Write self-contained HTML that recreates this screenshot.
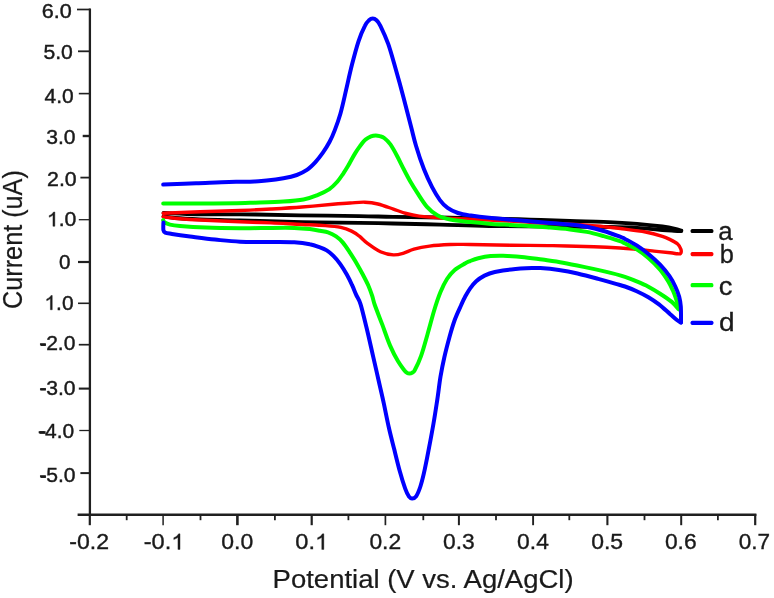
<!DOCTYPE html>
<html><head><meta charset="utf-8"><title>CV chart</title>
<style>
html,body{margin:0;padding:0;background:#fff;}
body{width:774px;height:598px;overflow:hidden;font-family:"Liberation Sans",sans-serif;}
svg{display:block;filter:blur(0.7px);}
text{font-family:"Liberation Sans",sans-serif;fill:#1a1a1a;stroke:#1a1a1a;}
</style></head><body>
<svg width="774" height="598" viewBox="0 0 774 598">
<rect width="774" height="598" fill="#fff"/>
<g id="axes">
<line x1="89.9" y1="8.6" x2="89.9" y2="516" stroke="#202020" stroke-width="2.3"/>
<line x1="77.6" y1="514.8" x2="756.4" y2="514.8" stroke="#202020" stroke-width="2.4"/>
<line x1="89.8" y1="514" x2="89.8" y2="525.2" stroke="#202020" stroke-width="2.2"/>
<line x1="163.1" y1="514" x2="163.1" y2="525.2" stroke="#202020" stroke-width="1.5"/>
<line x1="237.4" y1="514" x2="237.4" y2="525.2" stroke="#202020" stroke-width="2.6"/>
<line x1="311.7" y1="514" x2="311.7" y2="525.2" stroke="#202020" stroke-width="2.2"/>
<line x1="385.4" y1="514" x2="385.4" y2="525.2" stroke="#202020" stroke-width="1.7"/>
<line x1="458.9" y1="514" x2="458.9" y2="525.2" stroke="#202020" stroke-width="2.0"/>
<line x1="533.1" y1="514" x2="533.1" y2="525.2" stroke="#202020" stroke-width="1.9"/>
<line x1="607.4" y1="514" x2="607.4" y2="525.2" stroke="#202020" stroke-width="2.1"/>
<line x1="681.2" y1="514" x2="681.2" y2="525.2" stroke="#202020" stroke-width="2.0"/>
<line x1="755.2" y1="514" x2="755.2" y2="525.2" stroke="#202020" stroke-width="2.2"/>
<line x1="126.7" y1="514" x2="126.7" y2="520.2" stroke="#202020" stroke-width="1.8"/>
<line x1="200.5" y1="514" x2="200.5" y2="520.2" stroke="#202020" stroke-width="1.8"/>
<line x1="274.9" y1="514" x2="274.9" y2="520.2" stroke="#202020" stroke-width="1.8"/>
<line x1="348.4" y1="514" x2="348.4" y2="520.2" stroke="#202020" stroke-width="1.8"/>
<line x1="423.3" y1="514" x2="423.3" y2="520.2" stroke="#202020" stroke-width="1.8"/>
<line x1="496.0" y1="514" x2="496.0" y2="520.2" stroke="#202020" stroke-width="1.8"/>
<line x1="569.3" y1="514" x2="569.3" y2="520.2" stroke="#202020" stroke-width="1.8"/>
<line x1="644.5" y1="514" x2="644.5" y2="520.2" stroke="#202020" stroke-width="1.8"/>
<line x1="717.9" y1="514" x2="717.9" y2="520.2" stroke="#202020" stroke-width="1.8"/>
<line x1="77.0" y1="9.5" x2="90.2" y2="9.5" stroke="#202020" stroke-width="1.7"/>
<line x1="78.0" y1="51.3" x2="90.2" y2="51.3" stroke="#202020" stroke-width="1.8"/>
<line x1="78.8" y1="93.6" x2="90.2" y2="93.6" stroke="#202020" stroke-width="1.6"/>
<line x1="82.7" y1="136.0" x2="90.2" y2="136.0" stroke="#202020" stroke-width="2.4"/>
<line x1="80.4" y1="177.6" x2="90.2" y2="177.6" stroke="#202020" stroke-width="1.8"/>
<line x1="78.8" y1="219.7" x2="90.2" y2="219.7" stroke="#202020" stroke-width="1.3"/>
<line x1="78.0" y1="262.0" x2="90.2" y2="262.0" stroke="#202020" stroke-width="2.2"/>
<line x1="78.0" y1="303.3" x2="90.2" y2="303.3" stroke="#202020" stroke-width="1.6"/>
<line x1="78.8" y1="344.7" x2="90.2" y2="344.7" stroke="#202020" stroke-width="1.7"/>
<line x1="78.8" y1="388.6" x2="90.2" y2="388.6" stroke="#202020" stroke-width="2.1"/>
<line x1="79.3" y1="430.5" x2="90.2" y2="430.5" stroke="#202020" stroke-width="1.3"/>
<line x1="80.4" y1="473.1" x2="90.2" y2="473.1" stroke="#202020" stroke-width="2.0"/>
</g>
<g id="curves">
<path d="M163.5 213.0 C169.1 213.2 186.1 214.1 197.0 214.3 C207.9 214.5 219.2 214.4 229.0 214.4 C238.8 214.4 243.7 214.3 255.5 214.5 C267.3 214.7 282.7 215.0 300.0 215.3 C317.3 215.6 343.9 215.8 359.4 216.1 C374.9 216.3 379.6 216.6 393.0 216.8 C406.4 217.0 424.0 217.2 440.0 217.5 C456.0 217.8 474.0 218.0 489.0 218.3 C504.0 218.7 516.5 219.2 530.0 219.6 C543.5 220.0 557.7 220.6 570.0 221.0 C582.3 221.4 592.4 221.3 603.6 221.8 C614.8 222.3 627.4 223.0 637.2 223.8 C647.0 224.6 656.2 225.7 662.4 226.5 C668.5 227.3 671.0 227.8 674.1 228.5 C677.2 229.2 680.1 230.2 681.3 230.6" fill="none" stroke="#000" stroke-width="3.8" stroke-linecap="round" stroke-linejoin="round"/>
<path d="M681.3 231.0 C680.1 231.0 677.1 231.0 674.0 230.8 C670.9 230.6 668.5 230.5 662.4 230.0 C656.3 229.5 645.9 228.4 637.2 227.9 C628.5 227.4 622.5 227.2 610.0 227.0 C597.5 226.8 582.2 226.8 562.0 226.6 C541.8 226.4 509.3 226.3 489.0 226.0 C468.7 225.7 456.0 225.0 440.0 224.6 C424.0 224.2 406.4 223.8 393.0 223.5 C379.6 223.2 374.6 223.1 359.4 222.9 C344.2 222.7 321.9 222.5 302.0 222.1 C282.1 221.7 257.0 220.8 240.0 220.3 C223.0 219.8 210.8 219.7 200.0 219.3 C189.2 218.9 181.1 218.5 175.0 218.0 C168.9 217.5 165.4 216.6 163.5 216.3" fill="none" stroke="#000" stroke-width="3.8" stroke-linecap="round" stroke-linejoin="round"/>
<path d="M163.2 213.3 C169.3 213.1 187.2 212.3 200.0 211.8 C212.8 211.3 228.2 211.0 240.0 210.5 C251.8 210.0 260.7 209.6 271.0 209.0 C281.3 208.4 291.7 207.8 302.0 207.0 C312.3 206.2 325.0 205.0 333.0 204.3 C341.0 203.6 344.7 203.3 350.0 203.0 C355.3 202.7 360.2 202.0 364.9 202.2 C369.5 202.4 373.1 202.8 377.9 204.0 C382.6 205.2 388.7 207.5 393.4 209.1 C398.1 210.7 402.0 212.3 406.3 213.5 C410.6 214.7 412.8 215.3 419.2 216.1 C425.6 216.9 433.4 217.5 445.0 218.2 C456.6 218.8 474.8 219.3 489.0 220.0 C503.2 220.7 516.5 221.6 530.0 222.3 C543.5 223.0 560.5 223.7 570.0 224.2 C579.5 224.7 581.2 224.8 586.8 225.2 C592.4 225.6 598.0 226.0 603.6 226.6 C609.2 227.2 613.4 227.6 620.4 228.5 C627.4 229.4 638.6 230.7 645.6 232.0 C652.6 233.3 658.3 235.1 662.4 236.4 C666.5 237.7 667.7 238.4 670.2 239.6 C672.7 240.8 675.6 242.2 677.4 243.8 C679.2 245.4 680.4 247.7 680.9 249.3 C681.4 250.9 681.2 252.7 680.6 253.4 C680.0 254.2 679.2 253.9 677.5 253.8 C675.8 253.7 674.1 253.2 670.2 252.8 C666.3 252.4 659.6 251.7 654.0 251.1 C648.4 250.5 642.4 249.8 636.7 249.3 C631.0 248.8 627.1 248.4 620.0 248.0 C612.9 247.6 605.2 247.2 594.0 246.8 C582.8 246.4 566.5 245.9 552.7 245.6 C538.9 245.3 525.1 245.4 511.3 245.2 C497.5 245.0 480.2 244.6 470.0 244.5 C459.8 244.4 456.9 244.2 450.2 244.5 C443.4 244.8 435.5 245.3 429.5 246.1 C423.5 246.9 418.3 248.0 414.0 249.2 C409.7 250.4 407.1 252.1 403.7 253.1 C400.3 254.1 397.3 255.1 393.4 254.9 C389.5 254.7 384.7 253.7 380.4 251.8 C376.1 249.9 371.0 246.0 367.5 243.4 C364.0 240.8 362.0 238.2 359.4 236.2 C356.8 234.1 354.7 232.6 351.6 231.1 C348.5 229.6 345.2 228.3 340.8 227.4 C336.4 226.5 331.8 226.1 325.3 225.6 C318.8 225.1 311.1 224.9 302.0 224.5 C292.9 224.1 281.3 223.3 271.0 222.9 C260.7 222.5 251.8 222.3 240.0 221.8 C228.2 221.3 210.0 220.5 200.0 220.0 C190.0 219.5 186.1 219.2 180.0 218.7 C173.9 218.2 166.0 217.1 163.2 216.8" fill="none" stroke="#f00" stroke-width="3.4" stroke-linecap="round" stroke-linejoin="round"/>
<path d="M163.2 203.6 C169.3 203.6 187.7 203.6 200.0 203.5 C212.3 203.4 228.7 203.3 237.0 203.2 C245.3 203.1 242.3 203.1 250.0 202.8 C257.7 202.5 274.5 202.2 283.4 201.6 C292.3 201.0 297.9 200.6 303.5 199.5 C309.1 198.4 312.6 197.0 316.9 195.3 C321.2 193.6 326.0 191.4 329.4 189.1 C332.8 186.8 335.2 184.1 337.5 181.5 C339.8 178.9 341.4 176.2 343.4 173.3 C345.3 170.4 347.2 167.2 349.2 163.9 C351.1 160.6 353.3 156.3 355.1 153.4 C356.9 150.5 358.1 148.7 359.8 146.4 C361.6 144.1 363.7 141.3 365.6 139.6 C367.5 137.9 369.3 137.0 371.0 136.3 C372.7 135.6 374.2 135.4 375.8 135.4 C377.4 135.4 378.9 135.9 380.3 136.3 C381.7 136.7 382.5 136.7 384.2 138.0 C385.9 139.3 388.2 141.4 390.4 144.4 C392.5 147.4 394.9 151.8 397.1 156.0 C399.4 160.2 401.6 165.2 403.9 169.5 C406.1 173.8 408.4 178.2 410.6 182.0 C412.8 185.8 414.5 188.5 417.2 192.6 C419.9 196.7 423.6 203.0 427.0 206.8 C430.4 210.6 433.4 213.1 437.3 215.2 C441.2 217.3 444.6 218.3 450.2 219.5 C455.8 220.7 464.4 221.4 470.9 222.1 C477.4 222.8 480.6 223.1 489.0 223.7 C497.4 224.3 511.1 224.9 521.3 225.6 C531.5 226.2 541.9 227.0 550.0 227.6 C558.1 228.2 563.9 228.7 570.0 229.4 C576.1 230.1 581.2 230.8 586.8 231.9 C592.4 233.0 598.1 234.6 603.6 236.1 C609.1 237.6 616.4 240.0 620.0 241.2 C623.6 242.4 622.2 242.2 625.0 243.5 C627.8 244.8 632.8 246.9 636.7 249.3 C640.6 251.7 644.5 254.6 648.4 258.0 C652.3 261.4 656.8 265.8 660.1 269.7 C663.4 273.6 666.1 277.9 668.3 281.4 C670.4 284.9 671.6 287.7 673.0 290.8 C674.4 293.9 675.5 297.2 676.5 300.2 C677.5 303.2 678.5 307.2 678.9 308.6" fill="none" stroke="#0f0" stroke-width="4.0" stroke-linecap="round" stroke-linejoin="round"/>
<path d="M678.9 309.5 C677.7 308.2 674.9 304.5 671.8 301.9 C668.7 299.3 664.0 296.2 660.1 293.7 C656.2 291.2 652.3 288.8 648.4 286.7 C644.5 284.6 640.6 283.0 636.7 281.4 C632.8 279.8 630.4 278.5 625.0 276.8 C619.6 275.1 611.3 273.0 604.4 271.4 C597.5 269.8 590.6 268.3 583.7 266.9 C576.8 265.4 569.9 263.9 563.0 262.7 C556.1 261.5 549.3 260.6 542.4 259.6 C535.5 258.7 528.2 257.6 521.7 257.0 C515.2 256.4 508.3 255.8 503.1 255.7 C497.9 255.5 494.8 255.7 490.7 256.1 C486.6 256.5 481.8 257.4 478.3 258.2 C474.9 259.0 472.2 260.2 470.0 261.1 C467.8 262.0 467.6 262.0 465.0 263.5 C462.4 265.0 457.7 267.4 454.7 270.0 C451.7 272.6 449.4 275.3 447.0 279.0 C444.6 282.7 442.7 286.7 440.5 292.0 C438.3 297.3 436.1 304.0 434.0 311.0 C431.9 318.0 429.8 326.5 427.6 334.0 C425.5 341.5 423.2 349.9 421.1 355.9 C419.0 361.9 416.2 367.4 414.7 370.2 C413.2 373.0 412.9 372.2 412.0 372.8 C411.1 373.4 410.3 373.5 409.5 373.5 C408.7 373.5 407.9 373.4 407.0 372.8 C406.1 372.2 405.8 372.1 404.3 370.2 C402.8 368.2 400.3 365.2 397.9 361.1 C395.5 357.0 392.7 351.6 390.1 345.6 C387.5 339.6 384.9 331.7 382.4 324.9 C379.8 318.1 376.5 309.8 374.8 305.0 C373.1 300.2 373.3 299.2 372.2 295.9 C371.1 292.6 369.8 288.8 368.2 285.2 C366.6 281.6 364.8 278.3 362.8 274.5 C360.8 270.7 358.3 266.3 356.1 262.5 C353.9 258.7 351.6 255.2 349.4 251.8 C347.2 248.5 344.9 245.0 342.7 242.4 C340.5 239.8 338.6 238.1 336.1 236.4 C333.7 234.7 330.7 233.3 328.0 232.4 C325.3 231.5 323.0 231.4 320.0 230.8 C317.0 230.2 314.1 229.6 309.8 229.1 C305.5 228.6 300.8 228.1 294.3 227.9 C287.8 227.7 280.1 227.8 271.0 227.9 C261.9 228.0 250.8 228.4 240.0 228.3 C229.2 228.2 216.0 228.0 206.0 227.6 C196.0 227.2 186.0 226.5 180.0 226.0 C174.0 225.5 172.5 225.2 170.0 224.6 C167.5 224.0 165.9 223.2 164.8 222.5 C163.7 221.8 163.5 220.6 163.2 220.2" fill="none" stroke="#0f0" stroke-width="4.0" stroke-linecap="round" stroke-linejoin="round"/>
<path d="M163.2 184.6 C168.7 184.4 185.0 183.6 196.0 183.2 C207.0 182.8 220.0 182.1 229.0 181.9 C238.0 181.7 243.7 182.0 250.0 181.8 C256.3 181.6 261.1 181.2 266.7 180.6 C272.3 180.0 278.4 179.2 283.4 178.3 C288.4 177.4 292.9 176.4 296.8 175.0 C300.7 173.6 303.8 172.0 306.9 169.9 C310.0 167.8 312.5 165.2 315.2 162.3 C317.9 159.4 320.5 156.0 322.9 152.6 C325.3 149.2 327.6 145.6 329.6 141.8 C331.6 138.1 333.0 134.8 334.8 130.1 C336.6 125.4 338.5 120.3 340.4 113.7 C342.3 107.1 344.1 98.6 346.0 90.4 C347.9 82.2 349.9 72.8 352.0 64.6 C354.1 56.4 356.4 47.8 358.5 41.3 C360.6 34.8 363.1 29.3 364.9 25.8 C366.6 22.3 367.7 21.5 369.0 20.3 C370.3 19.1 371.4 18.6 372.7 18.6 C373.9 18.6 375.2 19.1 376.5 20.3 C377.8 21.5 378.4 21.9 380.4 25.8 C382.3 29.7 385.6 36.6 388.2 43.9 C390.8 51.2 393.3 60.8 395.9 69.8 C398.5 78.8 401.2 88.7 403.7 98.2 C406.2 107.7 408.9 118.7 411.0 126.6 C413.1 134.5 413.9 138.7 416.0 145.8 C418.1 152.9 421.2 162.2 423.9 169.1 C426.6 176.0 429.4 182.0 432.1 187.2 C434.8 192.4 437.3 196.6 439.9 200.1 C442.5 203.6 444.6 205.8 447.6 207.9 C450.6 210.1 454.1 211.7 458.0 213.0 C461.9 214.3 465.7 214.8 470.9 215.6 C476.1 216.4 480.6 217.0 489.0 217.8 C497.4 218.6 511.1 219.7 521.3 220.6 C531.5 221.5 541.9 222.3 550.0 223.0 C558.1 223.7 563.9 224.0 570.0 224.6 C576.1 225.2 581.2 225.7 586.8 226.8 C592.4 227.9 598.1 229.4 603.6 231.0 C609.1 232.6 616.4 235.3 620.0 236.6 C623.6 237.9 622.2 237.4 625.0 238.9 C627.8 240.4 632.8 242.9 636.7 245.4 C640.6 247.9 644.5 250.8 648.4 254.0 C652.3 257.2 656.6 261.0 660.1 264.7 C663.6 268.4 667.0 272.6 669.5 276.2 C672.0 279.8 673.7 283.1 675.3 286.5 C676.9 289.9 678.3 293.4 679.2 296.7 C680.1 300.0 680.5 302.2 680.8 306.5 C681.1 310.8 681.0 319.9 681.0 322.6" fill="none" stroke="#00f" stroke-width="4.0" stroke-linecap="round" stroke-linejoin="round"/>
<path d="M681.0 322.6 C680.3 322.2 678.7 321.4 676.9 320.0 C675.1 318.6 673.2 316.8 670.2 314.2 C667.2 311.6 662.6 307.2 659.0 304.4 C655.4 301.6 652.1 299.4 648.4 297.2 C644.7 295.0 640.6 293.0 636.7 291.2 C632.8 289.4 628.6 287.8 625.0 286.5 C621.4 285.2 619.5 284.9 615.0 283.6 C610.5 282.3 604.5 280.6 598.2 278.9 C592.0 277.2 584.0 275.0 577.5 273.5 C571.0 272.0 565.1 270.9 558.9 270.0 C552.7 269.1 544.8 268.4 540.3 268.1 C535.8 267.8 536.8 267.9 532.0 268.1 C527.2 268.3 517.5 268.8 511.3 269.4 C505.1 270.0 499.3 271.0 494.8 272.0 C490.3 273.0 487.6 274.1 484.5 275.6 C481.4 277.2 478.6 279.1 476.2 281.3 C473.8 283.5 471.9 286.0 470.0 288.6 C468.1 291.2 466.5 294.3 465.0 297.0 C463.5 299.7 462.9 301.2 461.2 305.0 C459.5 308.8 456.6 314.7 454.7 320.0 C452.8 325.3 451.2 330.8 449.5 337.0 C447.8 343.2 445.9 350.4 444.4 357.0 C442.9 363.6 441.7 369.5 440.5 376.6 C439.3 383.7 438.5 391.8 437.3 399.6 C436.1 407.4 434.9 415.5 433.5 423.5 C432.1 431.5 430.6 439.8 429.1 447.4 C427.7 455.0 426.2 462.6 424.8 469.1 C423.4 475.6 421.8 482.0 420.4 486.5 C418.9 491.0 417.5 494.3 416.1 496.3 C414.7 498.3 413.4 498.4 412.2 498.5 C411.0 498.6 410.2 498.2 409.0 496.6 C407.8 495.0 406.7 492.9 405.2 488.7 C403.7 484.5 401.6 477.8 399.8 471.3 C398.0 464.8 396.1 456.9 394.3 449.6 C392.5 442.4 390.6 435.4 388.9 427.8 C387.2 420.2 385.6 411.9 383.9 403.9 C382.2 395.9 380.3 388.0 378.5 380.0 C376.7 372.0 375.0 364.6 373.0 355.9 C371.0 347.1 368.6 336.1 366.5 327.5 C364.4 318.9 362.3 309.8 360.6 304.3 C358.9 298.8 357.5 297.8 356.1 294.6 C354.7 291.4 353.7 288.6 352.1 285.2 C350.6 281.8 348.8 278.1 346.8 274.5 C344.8 270.9 342.3 266.9 340.1 263.8 C337.9 260.7 335.6 258.0 333.4 255.8 C331.2 253.6 328.9 251.8 326.7 250.4 C324.5 249.0 322.8 248.3 320.0 247.3 C317.2 246.3 314.1 245.0 309.8 244.2 C305.5 243.3 300.8 242.6 294.3 242.2 C287.8 241.8 280.1 242.0 271.0 241.9 C261.9 241.8 249.3 242.1 240.0 241.7 C230.7 241.3 223.3 240.4 215.0 239.6 C206.7 238.8 197.2 237.5 190.0 236.6 C182.8 235.7 176.1 234.7 172.0 234.0 C167.9 233.3 166.6 233.2 165.2 232.6 C163.8 232.0 163.7 231.9 163.4 230.2 C163.1 228.5 163.4 223.8 163.4 222.5" fill="none" stroke="#00f" stroke-width="4.0" stroke-linecap="round" stroke-linejoin="round"/>
<rect x="690.6" y="228.9" width="22.8" height="4.2" rx="1.6" fill="#000"/>
<rect x="690.6" y="252.0" width="22.8" height="4.2" rx="1.6" fill="#f00"/>
<rect x="690.6" y="283.1" width="22.8" height="4.2" rx="1.6" fill="#0f0"/>
<rect x="690.6" y="320.7" width="22.8" height="4.2" rx="1.6" fill="#00f"/>
</g>
<g id="labels">
<g transform="translate(41.83 17.54) scale(0.9009 0.8750)" stroke-width="0.50"><text font-size="24">6.0</text></g>
<g transform="translate(43.45 59.41) scale(0.8822 0.8662)" stroke-width="0.50"><text font-size="24">5.0</text></g>
<g transform="translate(44.62 103.29) scale(0.8748 0.8456)" stroke-width="0.50"><text font-size="24">4.0</text></g>
<g transform="translate(46.23 143.94) scale(0.8806 0.8397)" stroke-width="0.50"><text font-size="24">3.0</text></g>
<g transform="translate(47.05 186.36) scale(0.8884 0.8603)" stroke-width="0.50"><text font-size="24">2.0</text></g>
<g transform="translate(46.91 226.25) scale(0.8852 0.8279)" stroke-width="0.50"><path transform="translate(0.00 0) scale(0.01172 -0.01172)" d="M763 0H583V1147Q518 1085 412.5 1023T223 930V1104Q373 1174.5 485 1275T644 1470H763Z" fill="#1a1a1a" stroke="#1a1a1a" stroke-width="42.7"/><text x="13.34" font-size="24">.0</text></g>
<g transform="translate(58.96 269.04) scale(0.8592 0.8515)" stroke-width="0.50"><text font-size="24">0</text></g>
<g transform="translate(44.44 309.75) scale(0.8723 0.8279)" stroke-width="0.50"><path transform="translate(0.00 0) scale(0.01172 -0.01172)" d="M763 0H583V1147Q518 1085 412.5 1023T223 930V1104Q373 1174.5 485 1275T644 1470H763Z" fill="#1a1a1a" stroke="#1a1a1a" stroke-width="42.7"/><text x="13.34" font-size="24">.0</text></g>
<g transform="translate(39.15 350.49) scale(0.8762 0.8456)" stroke-width="0.50"><text font-size="24">-2.0</text></g>
<g transform="translate(39.22 395.16) scale(0.8800 0.8603)" stroke-width="0.50"><text font-size="24">-3.0</text></g>
<g transform="translate(38.00 438.24) scale(0.8738 0.8632)" stroke-width="0.50"><text font-size="24">-4.0</text></g>
<g transform="translate(39.22 482.36) scale(0.8800 0.8603)" stroke-width="0.50"><text font-size="24">-5.0</text></g>
<g transform="translate(69.27 549.20) scale(0.9611 0.9294)" stroke-width="0.40"><text font-size="24">-0.2</text></g>
<g transform="translate(143.65 549.43) scale(0.9843 0.9036)" stroke-width="0.40"><text x="0.00" font-size="24">-0.</text><path transform="translate(28.01 0) scale(0.01172 -0.01172)" d="M763 0H583V1147Q518 1085 412.5 1023T223 930V1104Q373 1174.5 485 1275T644 1470H763Z" fill="#1a1a1a" stroke="#1a1a1a" stroke-width="34.1"/></g>
<g transform="translate(221.30 549.20) scale(0.9586 0.9294)" stroke-width="0.40"><text font-size="24">0.0</text></g>
<g transform="translate(295.33 549.43) scale(0.9845 0.9036)" stroke-width="0.40"><text x="0.00" font-size="24">0.</text><path transform="translate(20.02 0) scale(0.01172 -0.01172)" d="M763 0H583V1147Q518 1085 412.5 1023T223 930V1104Q373 1174.5 485 1275T644 1470H763Z" fill="#1a1a1a" stroke="#1a1a1a" stroke-width="34.1"/></g>
<g transform="translate(369.41 549.20) scale(0.9523 0.9294)" stroke-width="0.40"><text font-size="24">0.2</text></g>
<g transform="translate(443.06 549.20) scale(0.9492 0.9294)" stroke-width="0.40"><text font-size="24">0.3</text></g>
<g transform="translate(517.11 549.20) scale(0.9523 0.9294)" stroke-width="0.40"><text font-size="24">0.4</text></g>
<g transform="translate(591.18 549.20) scale(0.9570 0.9294)" stroke-width="0.40"><text font-size="24">0.5</text></g>
<g transform="translate(664.89 549.20) scale(0.9508 0.9294)" stroke-width="0.40"><text font-size="24">0.6</text></g>
<g transform="translate(738.80 549.20) scale(0.9383 0.9294)" stroke-width="0.40"><text font-size="24">0.7</text></g>
<g transform="translate(272.61 587.77) scale(1.1458 1.0864)" stroke-width="0.20"><text font-size="24">Potential (V vs. Ag/AgCl)</text></g>
<g transform="translate(22.28 308.95) rotate(-90) scale(1.0515 1.1636)" stroke-width="0.20"><text font-size="24">Current (uA)</text></g>
<g transform="translate(718.32 239.61) scale(1.0778 1.0638)" stroke-width="0.30"><text font-size="24">a</text></g>
<g transform="translate(719.74 262.98) scale(1.0589 1.0566)" stroke-width="0.30"><text font-size="24">b</text></g>
<g transform="translate(718.83 294.54) scale(1.1411 1.0753)" stroke-width="0.30"><text font-size="24">c</text></g>
<g transform="translate(718.96 331.48) scale(1.1684 1.0683)" stroke-width="0.30"><text font-size="24">d</text></g>
<line x1="40.6" y1="344.8" x2="45.9" y2="344.8" stroke="#1a1a1a" stroke-width="2.3"/>
<line x1="40.6" y1="389.3" x2="45.9" y2="389.3" stroke="#1a1a1a" stroke-width="2.3"/>
<line x1="39.5" y1="432.5" x2="45.6" y2="432.5" stroke="#1a1a1a" stroke-width="2.7"/>
<line x1="40.6" y1="476.8" x2="45.9" y2="476.8" stroke="#1a1a1a" stroke-width="2.3"/>
</g>
</svg>
</body></html>
